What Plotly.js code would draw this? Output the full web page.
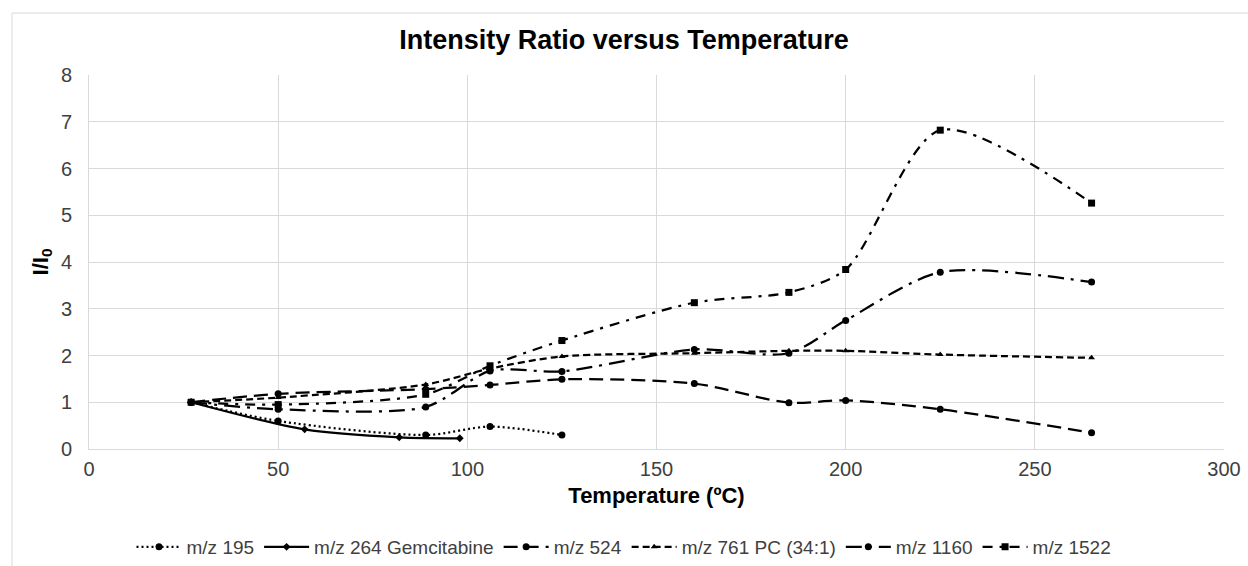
<!DOCTYPE html>
<html>
<head>
<meta charset="utf-8">
<script src="https://cdn.plot.ly/plotly-3.0.1.min.js"></script>
<style>html,body{margin:0;padding:0;background:#fff;}#chart{width:1248px;height:566px;}</style>
</head>
<body>
<div id="chart"></div>
<script>
// Data
const seriesNames = ["m/z 195", "m/z 264 Gemcitabine", "m/z 524", "m/z 761 PC (34:1)", "m/z 1160", "m/z 1522"];

const temp195 = [27, 50, 89, 106, 125];
const ratio195 = [1.0, 0.6, 0.3, 0.48, 0.3];

const temp264 = [27, 57, 82, 98];
const ratio264 = [1.0, 0.42, 0.25, 0.23];

const tempMain = [27, 50, 89, 106, 125, 160, 185, 200, 225, 265];
const ratio524 = [1.0, 1.18, 1.28, 1.37, 1.49, 1.4, 0.99, 1.04, 0.85, 0.35];
const ratio761 = [1.0, 1.1, 1.38, 1.72, 1.98, 2.05, 2.1, 2.1, 2.02, 1.95];
const ratio1160 = [1.0, 0.85, 0.9, 1.67, 1.66, 2.13, 2.05, 2.75, 3.78, 3.57];
const ratio1522 = [1.0, 0.95, 1.17, 1.78, 2.32, 3.13, 3.35, 3.84, 6.82, 5.26];

const xTicks = [0, 50, 100, 150, 200, 250, 300];
const yTicks = [0, 1, 2, 3, 4, 5, 6, 7, 8];

const FONT = "Arial, 'Liberation Sans', sans-serif";

function tr(name, x, y, dash, symbol, msize) {
  return {
    type: "scatter", mode: "lines+markers", name: name, x: x, y: y,
    line: {color: "#000000", width: 2.25, dash: dash, shape: "spline", smoothing: 0.8},
    marker: {color: "#000000", symbol: symbol, size: msize}
  };
}

const data = [
  tr(seriesNames[0], temp195, ratio195, "2px,3px", "circle", 7),
  tr(seriesNames[1], temp264, ratio264, "solid", "diamond", 6),
  tr(seriesNames[2], tempMain, ratio524, "14px,7px", "circle", 7),
  tr(seriesNames[3], tempMain, ratio761, "7px,4px", "triangle-up", 6),
  tr(seriesNames[4], tempMain, ratio1160, "16px,7px,3px,7px", "circle", 7),
  tr(seriesNames[5], tempMain, ratio1522, "10px,7px,3px,7px", "square", 7)
];

const layout = {
  width: 1248, height: 566,
  margin: {l: 89, r: 24, t: 75, b: 117, autoexpand: false},
  paper_bgcolor: "#ffffff", plot_bgcolor: "#ffffff",
  font: {family: FONT, color: "#595959", size: 20},
  showlegend: true,
  title: {
    text: "<b>Intensity Ratio versus Temperature</b>",
    font: {family: FONT, size: 27, color: "#000000"},
    x: 0.5, xref: "container", xanchor: "center",
    y: 1 - 40 / 566, yref: "container", yanchor: "middle"
  },
  xaxis: {
    range: [0, 300], tickvals: xTicks, ticktext: xTicks.map(String),
    showgrid: true, gridcolor: "#d9d9d9", gridwidth: 1,
    showline: true, linecolor: "#d9d9d9", linewidth: 1, mirror: false,
    zeroline: false, ticks: "", ticklen: 0, ticklabelstandoff: 2,
    tickfont: {family: FONT, size: 20, color: "#404040"},
    title: {text: "<b>Temperature (ºC)</b>", font: {family: FONT, size: 22, color: "#000000"}, standoff: 8}
  },
  yaxis: {
    range: [0, 8], tickvals: yTicks, ticktext: yTicks.map(String),
    showgrid: true, gridcolor: "#d9d9d9", gridwidth: 1,
    showline: true, linecolor: "#d9d9d9", linewidth: 1,
    zeroline: false, ticks: "", ticklen: 0, ticklabelstandoff: 12,
    tickfont: {family: FONT, size: 20, color: "#404040"},
    title: {text: "<b>I/I<sub>0</sub></b>", font: {family: FONT, size: 22, color: "#000000"}, standoff: 6}
  },
  legend: {
    orientation: "h", x: 0.5, xref: "container", xanchor: "center",
    y: 1 - 547 / 566, yref: "container", yanchor: "middle",
    font: {family: FONT, size: 19, color: "#404040"},
    itemwidth: 45, traceorder: "normal"
  },
  shapes: [
    {type: "line", xref: "paper", yref: "paper", x0: (12 - 89) / 1135, x1: 1.05, y0: (449 - 13) / 374, y1: (449 - 13) / 374,
     line: {color: "#d9d9d9", width: 1}},
    {type: "line", xref: "paper", yref: "paper", x0: (12 - 89) / 1135, x1: (12 - 89) / 1135, y0: (449 - 13) / 374, y1: -0.35,
     line: {color: "#d9d9d9", width: 1}}
  ]
};

Plotly.newPlot("chart", data, layout, {displayModeBar: false, staticPlot: true});
</script>
</body>
</html>
